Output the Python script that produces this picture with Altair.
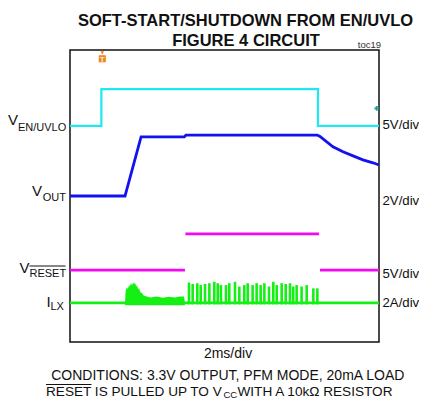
import altair as alt
import pandas as pd

# ---------------- data (time in ms, level in screen divisions from bottom) -------------
en_t = [0.0, 2.03, 2.03, 16.05, 16.05, 20.0]
en_v = [5.92, 5.92, 6.93, 6.93, 5.92, 5.92]

vout_t = [0.0, 3.56, 4.60, 7.40, 7.50, 16.00, 16.18, 17.02, 17.67, 18.32, 18.96, 19.61, 20.0]
vout_v = [4.00, 4.00, 5.62, 5.62, 5.67, 5.67, 5.63, 5.35, 5.21, 5.10, 4.99, 4.91, 4.85]

reset_t = [0.0, 7.44, 7.47, 16.12, 16.18, 20.0]
reset_v = [1.97, 1.97, 2.96, 2.96, 1.97, 1.97]
reset_seg = ["a", "a", "b", "b", "c", "c"]

ilx_t = [0.0, 20.0]
ilx_v = [1.07, 1.07]

burst_t = [3.56, 3.60, 3.68, 3.75, 3.82, 3.88, 3.95, 4.02, 4.08, 4.15, 4.21, 4.28, 4.34,
           4.41, 4.47, 4.55, 4.66, 4.75, 4.85, 5.20, 5.60, 6.00, 6.40, 6.80, 7.10, 7.38, 7.44]
burst_top = [1.07, 1.40, 1.50, 1.45, 1.56, 1.52, 1.62, 1.55, 1.64, 1.58, 1.63, 1.52, 1.56,
             1.44, 1.48, 1.36, 1.34, 1.28, 1.26, 1.22, 1.25, 1.21, 1.24, 1.22, 1.25, 1.25, 1.07]
burst_bot = [1.01] * len(burst_t)

spike_t = [7.70, 7.94, 8.24, 8.46, 8.74, 9.02, 9.34, 9.56, 9.77, 10.10, 10.31, 10.68,
           10.96, 11.28, 11.50, 11.82, 12.08, 12.34, 12.58, 12.88, 13.16, 13.38, 13.70,
           13.96, 14.24, 14.45, 14.67, 14.99, 15.32, 15.75, 16.01]
spike_top = [1.63, 1.59, 1.61, 1.56, 1.59, 1.61, 1.65, 1.61, 1.56, 1.56, 1.61, 1.65,
             1.52, 1.56, 1.61, 1.56, 1.61, 1.56, 1.61, 1.52, 1.65, 1.56, 1.61,
             1.59, 1.61, 1.52, 1.56, 1.52, 1.56, 1.47, 1.47]
spike_base = 1.03

trig_t, trig_v = [2.09], [7.76]
ref_t, ref_v = [19.85], [6.40]

# ---------------- layout ----------------
W, H = 309, 292
LEFT, TOP = 70, 50          # plot origin in page pixels
FONT = "Liberation Sans"

xs = alt.Scale(domain=[0, 20], nice=False, zero=False)
ys = alt.Scale(domain=[0, 8], nice=False, zero=False)
X = alt.X("t:Q", scale=xs, axis=None)
Y = alt.Y("v:Q", scale=ys, axis=None)


def trace(t, v, color, sw, seg=None):
    d = pd.DataFrame({"t": t, "v": v, "seg": seg if seg else ["a"] * len(t)})
    return alt.Chart(d).mark_line(color=color, strokeWidth=sw, clip=True).encode(
        x=X, y=Y, detail="seg:N", order="t:Q")


def txt(s, px, py, size, weight="normal", align="left", color="#111111"):
    d = pd.DataFrame({"s": [s]})
    return alt.Chart(d).mark_text(align=align, baseline="alphabetic", fontSize=size,
                                  font=FONT, fontWeight=weight, color=color).encode(
        x=alt.value(px - LEFT), y=alt.value(py - TOP), text="s:N")


def hline(x1, x2, py, sw=1):
    d = pd.DataFrame({"s": [0]})
    return alt.Chart(d).mark_rule(color="#111111", strokeWidth=sw).encode(
        x=alt.value(x1 - LEFT), x2=alt.value(x2 - LEFT), y=alt.value(py - TOP))


CYAN, BLUE, MAG, GREEN = "#1ee8f0", "#1212f0", "#f20af2", "#14f014"

layers = []
layers.append(trace(en_t, en_v, CYAN, 2.2))
layers.append(trace(vout_t, vout_v, BLUE, 2.8))
layers.append(trace(reset_t, reset_v, MAG, 2.8, reset_seg))
layers.append(trace(ilx_t, ilx_v, GREEN, 2.8))

bd = pd.DataFrame({"t": burst_t, "v": burst_top, "v2": burst_bot})
layers.append(alt.Chart(bd).mark_area(color=GREEN, opacity=1).encode(
    x=X, y=Y, y2="v2:Q"))

sd = pd.DataFrame({"t": spike_t, "v": spike_top, "b": [spike_base] * len(spike_t)})
layers.append(alt.Chart(sd).mark_rule(color=GREEN, strokeWidth=2.6).encode(
    x=X, y=Y, y2="b:Q"))

# trigger marker (orange) and reference marker (teal)
td = pd.DataFrame({"t": trig_t, "v": trig_v})
layers.append(alt.Chart(td).mark_point(shape="square", filled=True, size=50,
                                       color="#f0841e", opacity=1).encode(x=X, y=Y))
layers.append(alt.Chart(td).mark_point(shape="triangle-down", filled=True, size=14,
                                       color="#f0841e", opacity=1, yOffset=-6).encode(x=X, y=Y))
layers.append(alt.Chart(td).mark_text(text="T", fontSize=8, fontWeight="bold", font=FONT,
                                      color="#ffe6c4", baseline="middle", dy=1).encode(x=X, y=Y))
rd = pd.DataFrame({"t": ref_t, "v": ref_v})
layers.append(alt.Chart(rd).mark_point(shape="cross", filled=True, size=22,
                                       color="#1e9c9c", opacity=1).encode(x=X, y=Y))

# titles
layers.append(txt("SOFT-START/SHUTDOWN FROM EN/UVLO", 245.5, 25.5, 16.5, "bold", "center"))
layers.append(txt("FIGURE 4 CIRCUIT", 246, 45.5, 16.5, "bold", "center"))
layers.append(txt("toc19", 381, 47.5, 9.5, "normal", "right", "#333333"))

# left channel labels
layers.append(txt("V", 8, 125, 15))
layers.append(txt("EN/UVLO", 18, 130.5, 11))
layers.append(txt("V", 32, 196, 15))
layers.append(txt("OUT", 42.7, 200.5, 11))
layers.append(txt("V", 19.5, 273, 15))
layers.append(txt("RESET", 29.5, 277, 11))
layers.append(hline(29.5, 65.5, 266, 1))
layers.append(txt("I", 46.5, 306.5, 15))
layers.append(txt("LX", 50.5, 310, 11))

# right scale labels
RX = 382.5
layers.append(txt("5V/div", RX, 129, 13.2))
layers.append(txt("2V/div", RX, 205, 13.2))
layers.append(txt("5V/div", RX, 278, 13.2))
layers.append(txt("2A/div", RX, 307, 13.2))

# bottom texts
layers.append(txt("2ms/div", 228, 358, 14, "normal", "center"))
layers.append(txt("CONDITIONS: 3.3V OUTPUT, PFM MODE, 20mA LOAD", 227.8, 379.5, 14, "normal", "center"))
layers.append(txt("RESET IS PULLED UP TO V", 46, 395.8, 13.6))
layers.append(hline(46, 91.5, 384.5, 1))
layers.append(txt("CC", 223.5, 397.5, 9.5))
layers.append(txt(" WITH A 10k\u03a9 RESISTOR", 237.5, 395.8, 13.6))

chart = alt.layer(*layers).properties(
    width=W, height=H,
    autosize=alt.AutoSizeParams(type="none"),
    padding={"left": 62, "top": 42, "right": 40, "bottom": 58},
    background="white",
).configure_view(stroke="#111111", strokeWidth=1.5)

chart.save("out.html", embed_options={"renderer": "svg", "actions": False})
